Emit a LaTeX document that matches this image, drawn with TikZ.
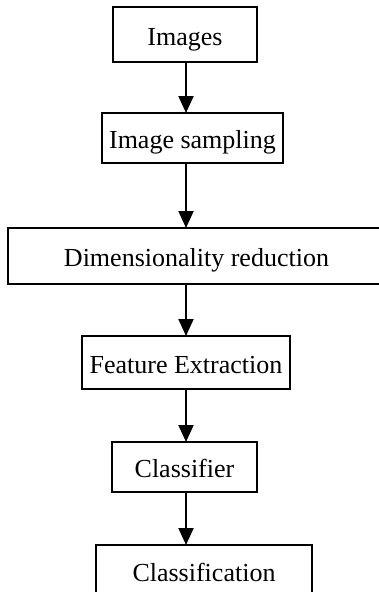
\documentclass[tikz,border=0pt]{standalone}
\usepackage{fontspec}
\setmainfont{Liberation Serif}
\usetikzlibrary{arrows.meta}
\begin{document}
\begin{tikzpicture}[x=1pt,y=-1pt,
  box/.style={draw, line width=2pt, inner sep=0pt, outer sep=0pt,
    text height=24pt, text depth=3pt, font=\fontsize{26}{30}\selectfont},
  flow/.style={-{Triangle[length=17pt,width=15pt]}, line width=2pt}]
\useasboundingbox (0,0) rectangle (379,592);
% processing stages, top to bottom
\node[box, minimum width=144pt, minimum height=55pt] (img)  at (185,34.5) {Images};
\node[box, minimum width=181pt, minimum height=50pt] (samp) at (192.5,138) {Image sampling};
\node[box, minimum width=377pt, minimum height=56pt] (dim)  at (196.5,256) {Dimensionality reduction};
\node[box, minimum width=208pt, minimum height=53pt] (feat) at (186,362.5) {Feature Extraction};
\node[box, minimum width=145pt, minimum height=50pt] (clsr) at (184.5,467) {Classifier};
\node[box, minimum width=216pt, minimum height=52pt] (clsn) at (204,571) {Classification};
% vertical line along which the arrows run
\coordinate (spine) at (186,0);
\draw[flow] (img.south  -| spine) -- (samp.north -| spine);
\draw[flow] (samp.south -| spine) -- (dim.north  -| spine);
\draw[flow] (dim.south  -| spine) -- (feat.north -| spine);
\draw[flow] (feat.south -| spine) -- (clsr.north -| spine);
\draw[flow] (clsr.south -| spine) -- (clsn.north -| spine);
\end{tikzpicture}
\end{document}
